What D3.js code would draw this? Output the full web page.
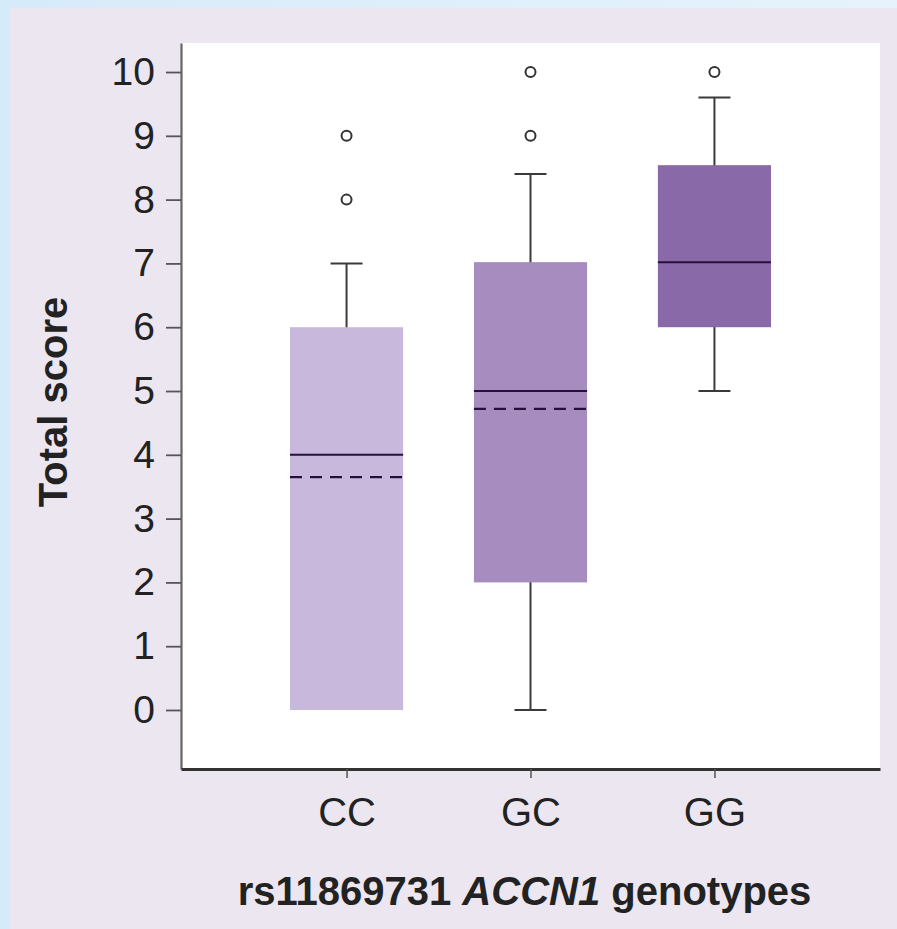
<!DOCTYPE html>
<head>
    <meta charset="utf-8">
    <!-- Load d3.js -->
    <script src="https://d3js.org/d3.v7.min.js"></script>
    <style>
        body {
            margin: 0;
            background: #e4f2fc;
            font-family: "Liberation Sans", Arial, sans-serif;
        }
        .axis text {
            font-family: "Liberation Sans", Arial, sans-serif;
            fill: #222;
        }
    </style>
</head>
<body>
    <div id="my_dataviz"></div>
</body>
<script>

    // genotype groups and box statistics
    var genotypes = ["CC", "GC", "GG"];
    var q1 = [0, 2, 6];
    var medians = [4, 5, 7.02];
    var q3 = [6, 7.02, 8.54];
    var whiskerLow = [0, 0, 5];
    var whiskerHigh = [7, 8.4, 9.6];
    var means = [3.65, 4.72, null];
    var outliers = [[8, 9], [9, 10], [10]];
    var boxColors = ["#c8b9dc", "#a78cc0", "#8a69a9"];
    var yTicks = [0, 1, 2, 3, 4, 5, 6, 7, 8, 9, 10];

    var margin = { top: 43, right: 17, bottom: 160, left: 181 },
        width = 897 - margin.left - margin.right,
        height = 929 - margin.top - margin.bottom;

    var root = d3.select("#my_dataviz")
        .append("svg")
        .attr("width", 897)
        .attr("height", 929);

    // left light-blue strip with a soft fade, then the lavender panel
    var grad = root.append("defs").append("linearGradient")
        .attr("id", "edge").attr("x1", 0).attr("x2", 1);
    grad.append("stop").attr("offset", 0).attr("stop-color", "#d6ebfa");
    grad.append("stop").attr("offset", 1).attr("stop-color", "#e6f3fc");
    root.append("rect").attr("width", 897).attr("height", 929).attr("fill", "url(#edge)");
    root.append("rect")
        .attr("x", 10).attr("y", 8)
        .attr("width", 887).attr("height", 921)
        .attr("fill", "#ece6f1");

    var svg = root.append("g")
        .attr("transform", "translate(" + margin.left + "," + margin.top + ")");

    // white plotting area
    svg.append("rect")
        .attr("width", width).attr("height", height)
        .attr("fill", "#ffffff");

    var x = d3.scalePoint()
        .domain(genotypes)
        .range([0, width])
        .padding(0.9);

    var y = d3.scaleLinear()
        .domain([-0.925, 10.455])
        .range([height, 0]);

    var boxW = x.step() * 0.615;
    var capW = 32;

    // Y axis
    var yAxis = svg.append("g")
        .attr("class", "axis")
        .call(d3.axisLeft(y).tickValues(yTicks).tickSize(15).tickSizeOuter(0).tickPadding(11));
    yAxis.selectAll("text").style("font-size", "39px");
    yAxis.selectAll("line").attr("stroke", "#555").attr("stroke-width", 1.8);
    yAxis.select(".domain").attr("stroke", "#666").attr("stroke-width", 2.2);

    // X axis
    var xAxis = svg.append("g")
        .attr("class", "axis")
        .attr("transform", "translate(0," + height + ")")
        .call(d3.axisBottom(x).tickSize(9).tickSizeOuter(0).tickPadding(20));
    xAxis.selectAll("text").style("font-size", "40px");
    xAxis.selectAll("line").attr("stroke", "#555").attr("stroke-width", 1.5);
    xAxis.select(".domain").attr("stroke", "#333").attr("stroke-width", 2.8);

    // axis titles
    root.append("text")
        .attr("transform", "translate(67," + (margin.top + height / 2 - 4) + ") rotate(-90)")
        .style("text-anchor", "middle")
        .style("font-size", "40px")
        .style("font-weight", "bold")
        .attr("fill", "#222")
        .text("Total score");

    var xt = root.append("text")
        .attr("x", margin.left + width / 2 - 6)
        .attr("y", 905)
        .style("text-anchor", "middle")
        .style("font-size", "40px")
        .style("font-weight", "bold")
        .attr("fill", "#222");
    xt.append("tspan").text("rs11869731 ");
    xt.append("tspan").style("font-style", "italic").text("ACCN1");
    xt.append("tspan").text(" genotypes");

    var groups = genotypes.map(function (g, i) {
        return { name: g, q1: q1[i], med: medians[i], q3: q3[i], lo: whiskerLow[i],
                 hi: whiskerHigh[i], mean: means[i], out: outliers[i], color: boxColors[i] };
    });

    var box = svg.append("g").selectAll("g")
        .data(groups)
        .enter()
        .append("g");

    // whiskers (drawn first so the box covers the stem)
    box.append("line")
        .attr("x1", function (d) { return x(d.name); })
        .attr("x2", function (d) { return x(d.name); })
        .attr("y1", function (d) { return y(d.hi); })
        .attr("y2", function (d) { return y(d.lo); })
        .attr("stroke", "#3a3a3a").attr("stroke-width", 2);
    box.filter(function (d) { return d.hi > d.q3; }).append("line")
        .attr("x1", function (d) { return x(d.name) - capW / 2; })
        .attr("x2", function (d) { return x(d.name) + capW / 2; })
        .attr("y1", function (d) { return y(d.hi); })
        .attr("y2", function (d) { return y(d.hi); })
        .attr("stroke", "#3a3a3a").attr("stroke-width", 2);
    box.filter(function (d) { return d.lo < d.q1; }).append("line")
        .attr("x1", function (d) { return x(d.name) - capW / 2; })
        .attr("x2", function (d) { return x(d.name) + capW / 2; })
        .attr("y1", function (d) { return y(d.lo); })
        .attr("y2", function (d) { return y(d.lo); })
        .attr("stroke", "#3a3a3a").attr("stroke-width", 2);

    // boxes
    box.append("rect")
        .attr("x", function (d) { return x(d.name) - boxW / 2; })
        .attr("width", boxW)
        .attr("y", function (d) { return y(d.q3); })
        .attr("height", function (d) { return y(d.q1) - y(d.q3); })
        .attr("fill", function (d) { return d.color; });

    // median
    box.append("line")
        .attr("x1", function (d) { return x(d.name) - boxW / 2; })
        .attr("x2", function (d) { return x(d.name) + boxW / 2; })
        .attr("y1", function (d) { return y(d.med); })
        .attr("y2", function (d) { return y(d.med); })
        .attr("stroke", "#24103a").attr("stroke-width", 2);

    // mean (dashed)
    box.filter(function (d) { return d.mean != null; }).append("line")
        .attr("x1", function (d) { return x(d.name) - boxW / 2; })
        .attr("x2", function (d) { return x(d.name) + boxW / 2; })
        .attr("y1", function (d) { return y(d.mean); })
        .attr("y2", function (d) { return y(d.mean); })
        .attr("stroke", "#24103a").attr("stroke-width", 2.2)
        .attr("stroke-dasharray", "12,8");

    // outliers
    box.selectAll("circle")
        .data(function (d) { return d.out.map(function (v) { return { name: d.name, v: v }; }); })
        .enter()
        .append("circle")
        .attr("cx", function (d) { return x(d.name); })
        .attr("cy", function (d) { return y(d.v); })
        .attr("r", 5)
        .attr("fill", "none")
        .attr("stroke", "#333")
        .attr("stroke-width", 2);

</script>
